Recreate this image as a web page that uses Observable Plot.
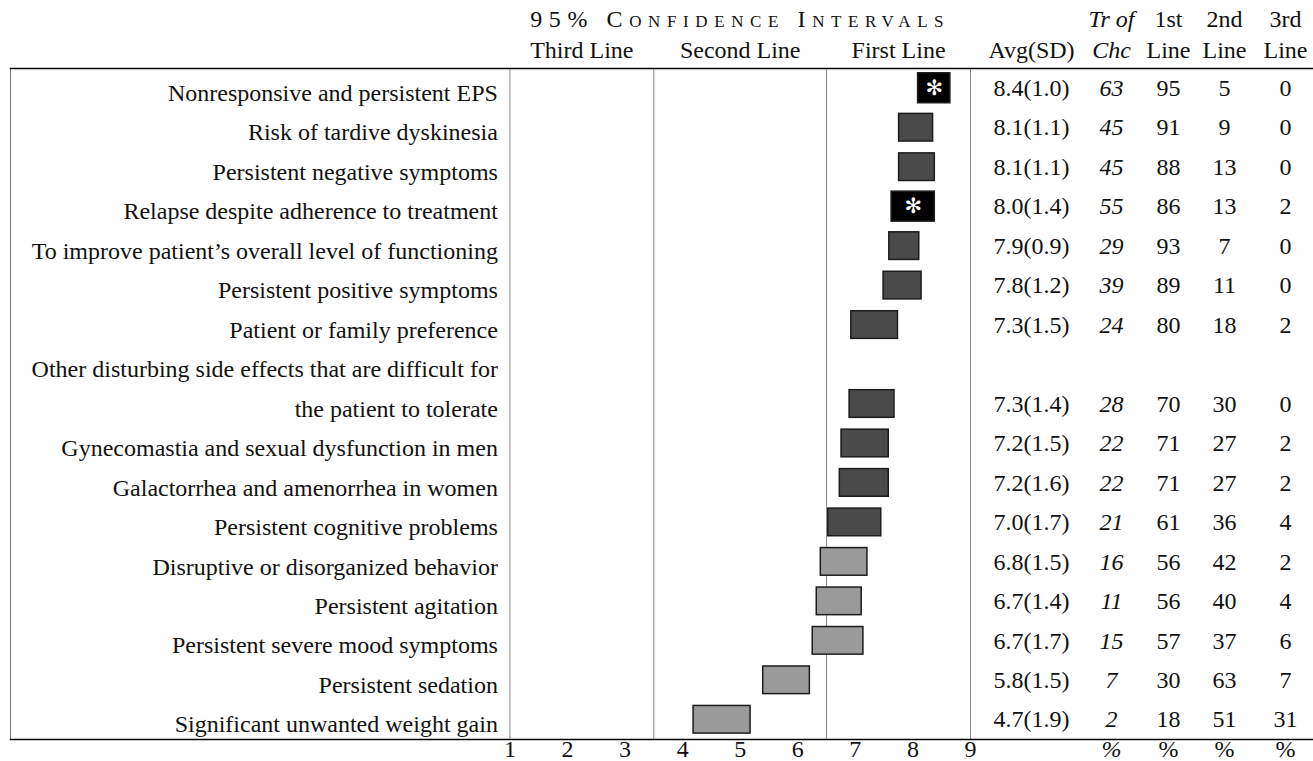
<!DOCTYPE html>
<html><head><meta charset="utf-8">
<script src="https://cdn.jsdelivr.net/npm/d3@7"></script>
<script src="https://cdn.jsdelivr.net/npm/@observablehq/plot@0.6"></script>
<style>
html,body{margin:0;padding:0;background:#fff;}
#chart g[font-variant="small-caps"] text { letter-spacing: 6.6px; }
</style>
</head><body><div id="chart"></div>
<script>
const labels = [
  "Nonresponsive and persistent EPS",
  "Risk of tardive dyskinesia",
  "Persistent negative symptoms",
  "Relapse despite adherence to treatment",
  "To improve patient’s overall level of functioning",
  "Persistent positive symptoms",
  "Patient or family preference",
  "Other disturbing side effects that are difficult for\nthe patient to tolerate",
  "Gynecomastia and sexual dysfunction in men",
  "Galactorrhea and amenorrhea in women",
  "Persistent cognitive problems",
  "Disruptive or disorganized behavior",
  "Persistent agitation",
  "Persistent severe mood symptoms",
  "Persistent sedation",
  "Significant unwanted weight gain"
];
const avg = [8.4, 8.1, 8.1, 8.0, 7.9, 7.8, 7.3, 7.3, 7.2, 7.2, 7.0, 6.8, 6.7, 6.7, 5.8, 4.7];
const sd = [1.0, 1.1, 1.1, 1.4, 0.9, 1.2, 1.5, 1.4, 1.5, 1.6, 1.7, 1.5, 1.4, 1.7, 1.5, 1.9];
const ciLow = [8.09, 7.76, 7.76, 7.63, 7.59, 7.49, 6.93, 6.90, 6.76, 6.73, 6.53, 6.40, 6.33, 6.26, 5.40, 4.19];
const ciHigh = [8.65, 8.35, 8.38, 8.38, 8.11, 8.15, 7.74, 7.68, 7.58, 7.58, 7.45, 7.21, 7.11, 7.14, 6.21, 5.18];
const trOfChc = [63, 45, 45, 55, 29, 39, 24, 28, 22, 22, 21, 16, 11, 15, 7, 2];
const firstLine = [95, 91, 88, 86, 93, 89, 80, 70, 71, 71, 61, 56, 56, 57, 30, 18];
const secondLine = [5, 9, 13, 13, 7, 11, 18, 30, 27, 27, 36, 42, 40, 37, 63, 51];
const thirdLine = [0, 0, 0, 2, 0, 0, 2, 0, 2, 2, 4, 2, 4, 6, 7, 31];

const cutoffs = [1, 3.5, 6.5, 9];
const regionNames = ["Third Line", "Second Line", "First Line"];
const axisTicks = [1, 2, 3, 4, 5, 6, 7, 8, 9];
const title = "95% Confidence Intervals";
const colHeadTop = ["", "Tr of", "1st", "2nd", "3rd"];
const colHeadBottom = ["Avg(SD)", "Chc", "Line", "Line", "Line"];
const colFooters = ["", "%", "%", "%", "%"];

// build table
let cum = 0;
const rows = labels.map((label, i) => {
  const n = label.split("\n").length;
  const first = cum; cum += n; const last = cum - 1;
  return {
    label, labelY: (first + last) / 2, line: last,
    avgsd: `${avg[i].toFixed(1)}(${sd[i].toFixed(1)})`,
    lo: ciLow[i], hi: ciHigh[i],
    tr: String(trOfChc[i]), p1: String(firstLine[i]), p2: String(secondLine[i]), p3: String(thirdLine[i]),
    choice: trOfChc[i] >= 50,
    tier: ciLow[i] >= cutoffs[2] ? "first" : "second"
  };
});
const nLines = cum;
const regions = regionNames.map((name, i) => ({name, from: cutoffs[i], to: cutoffs[i + 1]}));

const FS = 24;
const W = 1313, H = 761;
const mL = 509.4, mR = 343, mT = 68, mB = 22;
const borderInset = -(mL - 10);

const columns = [
  {key: "avgsd", dx: 61, italic: false},
  {key: "tr", dx: 141, italic: true},
  {key: "p1", dx: 198, italic: false},
  {key: "p2", dx: 254, italic: false},
  {key: "p3", dx: 315, italic: false}
];

const txt = {fontSize: FS, fill: "#111", textAnchor: "middle", lineAnchor: "middle"};

const colMarks = columns.flatMap((c, i) => {
  const st = {...txt, fontStyle: c.italic ? "italic" : "normal", dx: c.dx};
  return [
    Plot.text(rows, {...st, y: "line", text: c.key, frameAnchor: "right"}),
    Plot.text([colHeadTop[i]], {...st, frameAnchor: "top-right", dy: -49}),
    Plot.text([colHeadBottom[i]], {...st, frameAnchor: "top-right", dy: -18}),
    Plot.text([colFooters[i]], {...st, frameAnchor: "bottom-right", dy: 10})
  ];
});

const chart = Plot.plot({
  width: W, height: H,
  marginLeft: mL, marginRight: mR, marginTop: mT, marginBottom: mB,
  style: {fontFamily: "'Liberation Serif', 'Times New Roman', serif", fontSize: FS + "px", background: "#fff", color: "#111"},
  x: {domain: [cutoffs[0], cutoffs[cutoffs.length - 1]]},
  y: {domain: [-0.5, nLines - 0.5], reverse: true, axis: null},
  marks: [
    Plot.ruleX(cutoffs, {stroke: "#888", strokeWidth: 1}),
    Plot.frame({anchor: "left", insetLeft: borderInset, stroke: "#777", strokeWidth: 1}),
    Plot.frame({anchor: "top", insetLeft: borderInset, insetRight: -mR, stroke: "#000", strokeWidth: 1.5}),
    Plot.frame({anchor: "bottom", insetLeft: borderInset, insetRight: -mR, stroke: "#000", strokeWidth: 1.5}),
    Plot.rect(rows, {
      x1: "lo", x2: "hi",
      y1: d => d.line - (d.choice ? 0.38 : 0.35),
      y2: d => d.line + (d.choice ? 0.38 : 0.35),
      fill: d => d.choice ? "#000" : d.tier === "first" ? "#4a4a4a" : "#9a9a9a",
      stroke: "#1c1c1c", strokeWidth: 1.5
    }),
    Plot.text(rows.filter(d => d.choice), {
      x: d => (d.lo + d.hi) / 2, y: "line", text: () => "✻",
      fill: "#fff", fontSize: 21, fontFamily: "DejaVu Sans"
    }),
    Plot.text(rows, {...txt, y: "labelY", text: "label", frameAnchor: "left", textAnchor: "end", dx: -12, lineHeight: 39.5 / FS}),
    Plot.text([title], {...txt, x: () => (cutoffs[0] + cutoffs[cutoffs.length - 1]) / 2, frameAnchor: "top", dy: -49, fontVariant: "small-caps"}),
    Plot.text(regions, {...txt, x: d => (d.from + d.to) / 2, text: "name", frameAnchor: "top", dy: -18}),
    ...colMarks,
    Plot.axisX({ticks: axisTicks, tickSize: 0, tickPadding: 0, fontSize: FS, label: null, tickFormat: d => String(d)})
  ]
});
document.getElementById("chart").append(chart);
</script>
</body></html>
